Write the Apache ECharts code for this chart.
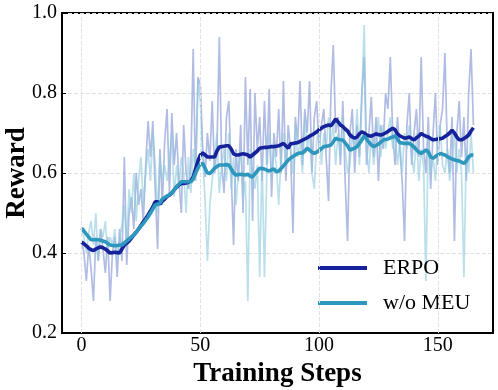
<!DOCTYPE html>
<html>
<head>
<meta charset="utf-8">
<script src="https://cdn.jsdelivr.net/npm/echarts@6/dist/echarts.min.js"></script>
<style>
  html, body { margin: 0; padding: 0; background: #fff; }
  #main { width: 498px; height: 390px; }
</style>
</head>
<body>
<div id="main"></div>
<script>
// smoothed reward curves, one value per training step (0..165)
const erpoSmooth = [
  .428,.423,.418,.412,.408,.406,.41,.413,.415,.413,
  .41,.405,.40,.401,.402,.401,.40,.41,.42,.425,
  .43,.437,.445,.452,.46,.469,.478,.486,.495,.505,
  .515,.528,.528,.522,.53,.535,.541,.545,.55,.558,
  .565,.57,.574,.574,.575,.577,.58,.59,.61,.63,
  .645,.65,.645,.64,.64,.64,.64,.655,.665,.666,
  .667,.668,.668,.66,.648,.645,.645,.647,.648,.647,
  .645,.64,.645,.65,.655,.662,.663,.664,.664,.665,
  .666,.666,.667,.668,.671,.674,.668,.662,.673,.674,
  .675,.676,.679,.682,.685,.688,.692,.695,.699,.703,
  .708,.712,.716,.718,.72,.718,.726,.735,.728,.72,
  .716,.71,.705,.695,.69,.687,.69,.698,.703,.70,
  .695,.693,.692,.695,.698,.696,.695,.697,.70,.704,
  .708,.712,.708,.698,.693,.69,.687,.688,.69,.686,
  .683,.688,.692,.699,.695,.692,.69,.686,.683,.684,
  .685,.686,.687,.691,.695,.70,.707,.70,.69,.683,
  .683,.686,.69,.695,.705,.713
];
const meuSmooth = [
  .462,.455,.447,.44,.433,.433,.433,.433,.432,.43,
  .428,.424,.42,.419,.418,.419,.42,.42,.425,.43,
  .435,.44,.445,.452,.46,.467,.474,.482,.49,.50,
  .51,.52,.522,.525,.535,.539,.542,.546,.55,.558,
  .565,.572,.578,.578,.578,.578,.578,.585,.60,.612,
  .622,.624,.612,.60,.599,.605,.612,.616,.62,.62,
  .62,.621,.62,.61,.60,.595,.596,.597,.596,.595,
  .597,.592,.59,.598,.605,.612,.611,.61,.607,.605,
  .608,.61,.603,.605,.611,.618,.625,.632,.637,.641,
  .645,.649,.65,.65,.655,.662,.657,.652,.649,.652,
  .656,.661,.666,.667,.668,.67,.678,.687,.684,.683,
  .6825,.675,.668,.6575,.66,.662,.666,.674,.682,.6925,
  .685,.677,.67,.666,.669,.672,.677,.6825,.684,.685,
  .688,.69,.6925,.685,.676,.675,.674,.674,.674,.67,
  .665,.658,.652,.649,.653,.6575,.653,.64,.637,.641,
  .645,.649,.647,.645,.641,.638,.635,.633,.631,.63,
  .627,.624,.63,.64,.645,.645
];
// raw (unsmoothed) rewards
const erpoRaw = [
  .43,.40,.33,.42,.36,.28,.44,.38,.46,.41,
  .35,.44,.28,.40,.44,.34,.46,.38,.64,.37,
  .50,.54,.46,.60,.52,.56,.48,.62,.73,.64,
  .73,.56,.41,.66,.52,.68,.76,.55,.75,.62,
  .70,.58,.50,.72,.60,.56,.62,.91,.58,.84,
  .82,.66,.59,.70,.63,.78,.60,.66,.94,.62,
  .55,.74,.78,.60,.42,.66,.58,.72,.50,.84,
  .62,.81,.48,.80,.66,.74,.58,.78,.62,.81,
  .54,.70,.64,.76,.60,.83,.58,.72,.66,.45,
  .74,.68,.83,.62,.76,.70,.83,.60,.74,.78,
  .66,.72,.76,.64,.53,.80,.92,.70,.74,.62,
  .78,.58,.43,.70,.76,.60,.72,.64,.80,.89,
  .62,.70,.79,.64,.74,.58,.72,.66,.80,.76,
  .89,.70,.62,.74,.66,.58,.43,.72,.80,.62,
  .70,.76,.64,.89,.66,.60,.74,.56,.70,.80,
  .62,.72,.76,.90,.66,.60,.74,.43,.70,.78,
  .64,.74,.58,.80,.91,.72
];
const meuRaw = [
  .46,.44,.40,.45,.48,.42,.50,.38,.46,.44,
  .48,.40,.44,.42,.46,.38,.44,.47,.52,.42,
  .56,.50,.60,.48,.58,.64,.52,.60,.66,.58,
  .70,.62,.50,.64,.58,.62,.58,.64,.70,.54,
  .62,.56,.64,.60,.50,.64,.55,.66,.60,.83,
  .78,.64,.53,.38,.52,.58,.64,.70,.55,.62,
  .66,.58,.70,.56,.64,.52,.60,.66,.54,.58,
  .28,.66,.60,.56,.62,.34,.64,.34,.60,.70,
  .58,.66,.62,.52,.64,.70,.62,.68,.66,.60,
  .72,.64,.68,.60,.74,.66,.70,.60,.56,.68,
  .72,.62,.70,.66,.74,.68,.72,.62,.70,.64,
  .74,.66,.60,.62,.70,.66,.76,.62,.78,.97,
  .66,.60,.70,.62,.68,.74,.64,.72,.66,.70,
  .74,.66,.70,.62,.68,.60,.70,.66,.72,.64,
  .60,.70,.58,.66,.62,.33,.70,.60,.64,.58,
  .68,.72,.62,.60,.66,.58,.64,.70,.60,.66,
  .60,.34,.66,.60,.70,.60
];
const xTicks = [0, 50, 100, 150];

const pairs = arr => arr.map((v, i) => [i, v]);
const serif = 'Liberation Serif';
const gridLine = { color: '#e2e2e2', type: 'dashed', width: 1 };

let chart = echarts.init(document.getElementById('main'));
let option = {
    animation: false,
    grid: {
        left: 62, right: 5, top: 13, bottom: 57,
        outerBoundsMode: 'none',
        containLabel: false,
        show: true, borderColor: '#000', borderWidth: 2
    },
    legend: {
        data: ['ERPO', 'w/o MEU'],
        orient: 'vertical',
        left: 318, top: 257,
        padding: 0,
        icon: 'rect',
        itemWidth: 49, itemHeight: 4,
        itemGap: 13,
        itemStyle: { borderWidth: 0 },
        textStyle: { fontFamily: serif, fontSize: 22, color: '#000', padding: [0, 0, 0, 11] }
    },
    xAxis: {
        type: 'value',
        min: -8.25, max: 173.25,
        name: 'Training Steps',
        nameLocation: 'middle',
        nameGap: 26,
        nameTextStyle: { fontFamily: serif, fontSize: 27, fontWeight: 'bold', color: '#000' },
        axisLine: { onZero: false, lineStyle: { color: '#000', width: 2 } },
        axisTick: { inside: true, length: 4, customValues: xTicks, lineStyle: { color: '#000' } },
        axisLabel: { customValues: xTicks, fontFamily: serif, fontSize: 20, color: '#000', margin: 3 },
        splitLine: { show: false }
    },
    yAxis: {
        type: 'value',
        min: 0.2, max: 1.0, interval: 0.2,
        name: 'Reward',
        nameLocation: 'middle',
        nameMoveOverlap: false,
        nameGap: 31,
        nameTextStyle: { fontFamily: serif, fontSize: 27, fontWeight: 'bold', color: '#000' },
        axisLine: { show: true, onZero: false, lineStyle: { color: '#000', width: 2 } },
        axisTick: { show: true, inside: true, length: 4, lineStyle: { color: '#000' } },
        axisLabel: {
            fontFamily: serif, fontSize: 20, color: '#000', margin: 5,
            formatter: v => v.toFixed(1)
        },
        splitLine: { show: true, lineStyle: gridLine }
    },
    series: [
        {
            name: 'ERPO raw', type: 'line', data: pairs(erpoRaw), symbol: 'none',
            lineStyle: { color: '#7b90d0', width: 1.7, opacity: 0.6 }, z: 1,
            markLine: {
                silent: true, symbol: 'none', label: { show: false },
                lineStyle: gridLine,
                data: xTicks.map(v => ({ xAxis: v }))
            }
        },
        {
            name: 'w/o MEU raw', type: 'line', data: pairs(meuRaw), symbol: 'none',
            lineStyle: { color: '#8cc9dc', width: 1.7, opacity: 0.6 }, z: 1
        },
        {
            name: 'ERPO', type: 'line', data: pairs(erpoSmooth), symbol: 'none',
            itemStyle: { color: '#16229a' },
            lineStyle: { color: '#16229a', width: 3.6 }, z: 3
        },
        {
            name: 'w/o MEU', type: 'line', data: pairs(meuSmooth), symbol: 'none',
            itemStyle: { color: '#2e97bd' },
            lineStyle: { color: '#2e97bd', width: 3.6 }, z: 4
        }
    ]
};
chart.setOption(option);
</script>
</body>
</html>
